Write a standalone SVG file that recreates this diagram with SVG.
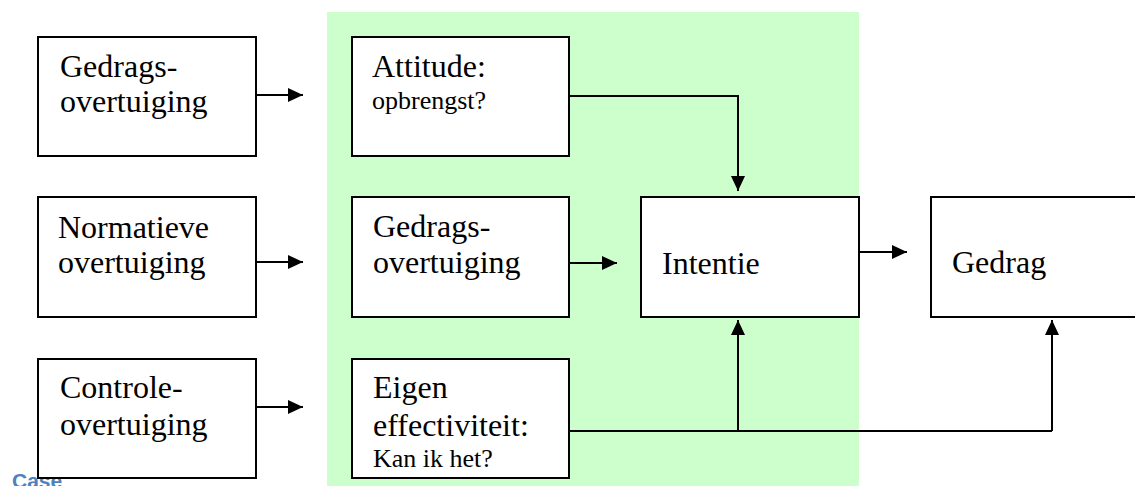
<svg xmlns="http://www.w3.org/2000/svg" width="1135" height="486" viewBox="0 0 1135 486">
  <style>
    .box { fill: #ffffff; stroke: #000000; stroke-width: 2; }
    .t { font-family: "Liberation Serif", serif; font-size: 32px; fill: #000000; }
    .s { font-family: "Liberation Serif", serif; font-size: 26px; fill: #000000; }
    .c { fill: none; stroke: #000000; stroke-width: 2; }
    .case { font-family: "Liberation Sans", sans-serif; font-size: 21px; font-weight: bold; fill: #4F81BD; }
  </style>
  <defs>
    <marker id="ah" markerUnits="userSpaceOnUse" markerWidth="16" markerHeight="14" refX="15" refY="7" orient="auto">
      <path d="M0,0 L15,7 L0,14 Z" fill="#000000"/>
    </marker>
  </defs>
  <rect x="0" y="0" width="1135" height="486" fill="#ffffff"/>
  <rect id="green-area" x="327" y="12" width="532" height="474" fill="#CCFFCC"/>
  <text class="case" x="12" y="488">Case</text>

  <g id="gedragsovertuiging-left">
    <rect class="box" x="38" y="37" width="218" height="119"/>
    <text class="t" x="60" y="77">Gedrags-</text>
    <text class="t" x="60" y="112">overtuiging</text>
  </g>
  <g id="normatieve-overtuiging">
    <rect class="box" x="38" y="197" width="218" height="120"/>
    <text class="t" x="58" y="238">Normatieve</text>
    <text class="t" x="58" y="273">overtuiging</text>
  </g>
  <g id="controle-overtuiging">
    <rect class="box" x="38" y="359" width="218" height="119"/>
    <text class="t" x="60" y="398">Controle-</text>
    <text class="t" x="60" y="435">overtuiging</text>
  </g>
  <g id="attitude">
    <rect class="box" x="352" y="37" width="217" height="119"/>
    <text class="t" x="372" y="77">Attitude:</text>
    <text class="s" x="372" y="109">opbrengst?</text>
  </g>
  <g id="gedragsovertuiging-mid">
    <rect class="box" x="352" y="197" width="217" height="120"/>
    <text class="t" x="373" y="237">Gedrags-</text>
    <text class="t" x="373" y="273">overtuiging</text>
  </g>
  <g id="eigen-effectiviteit">
    <rect class="box" x="352" y="359" width="217" height="119"/>
    <text class="t" x="373" y="398">Eigen</text>
    <text class="t" x="373" y="436">effectiviteit:</text>
    <text class="s" x="373" y="467">Kan ik het?</text>
  </g>
  <g id="intentie">
    <rect class="box" x="641" y="197" width="218" height="120"/>
    <text class="t" x="662" y="274">Intentie</text>
  </g>
  <g id="gedrag">
    <rect class="box" x="931" y="197" width="215" height="120"/>
    <text class="t" x="952" y="273">Gedrag</text>
  </g>

  <g id="connectors">
    <line class="c" x1="256" y1="95" x2="303" y2="95" marker-end="url(#ah)"/>
    <line class="c" x1="256" y1="262" x2="303" y2="262" marker-end="url(#ah)"/>
    <line class="c" x1="256" y1="407" x2="303" y2="407" marker-end="url(#ah)"/>
    <line class="c" x1="569" y1="263" x2="617" y2="263" marker-end="url(#ah)"/>
    <line class="c" x1="859" y1="252" x2="907" y2="252" marker-end="url(#ah)"/>
    <polyline class="c" points="569,96 738,96 738,191" marker-end="url(#ah)"/>
    <line class="c" x1="569" y1="431" x2="1052" y2="431"/>
    <line class="c" x1="738" y1="431" x2="738" y2="320" marker-end="url(#ah)"/>
    <line class="c" x1="1052" y1="431" x2="1052" y2="320" marker-end="url(#ah)"/>
  </g>
</svg>
